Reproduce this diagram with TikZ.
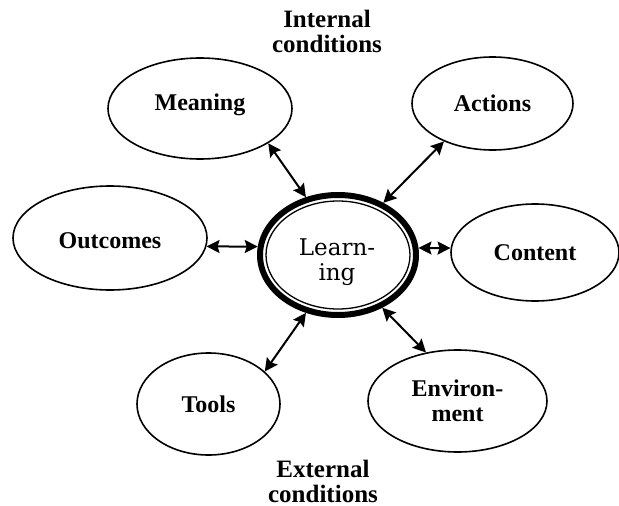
\documentclass[tikz,border=0pt]{standalone}
\usepackage{fontspec}
\setmainfont{Liberation Serif}
\newfontfamily\learnfont{DejaVu Serif}
\usetikzlibrary{shapes.geometric,arrows.meta}
\begin{document}
\begin{tikzpicture}[x=1pt,y=-1pt,
  oval/.style={ellipse,draw,line width=1.6pt,inner sep=0pt,align=center,font=\fontsize{24}{25}\selectfont\bfseries},
  tip/.tip={Stealth[length=13pt,width=13pt,inset=2pt]},
  link/.style={line width=2pt,tip-tip},
  cond/.style={align=center,inner sep=0pt,font=\fontsize{25}{25}\selectfont\bfseries}]
\useasboundingbox (0,0) rectangle (619,506);
\node[oval,minimum width=184pt,minimum height=101pt] (meaning) at (200,108.5) {\raisebox{4pt}[\height][\depth]{Meaning}};
\node[oval,minimum width=161pt,minimum height=93pt] (actions) at (492.5,103.5) {Actions};
\node[oval,minimum width=194pt,minimum height=104pt] (outcomes) at (110,238) {\raisebox{-3pt}[\height][\depth]{Outcomes}};
\node[oval,minimum width=168pt,minimum height=97pt] (content) at (535,252.5) {Content};
\node[oval,minimum width=143pt,minimum height=102pt] (tools) at (208.5,404) {Tools};
\node[oval,minimum width=179pt,minimum height=102pt] (environment) at (457.5,401) {Environ-\\ment};
\node[ellipse,draw,line width=6pt,minimum width=156pt,minimum height=120pt,inner sep=0pt] (learning) at (338,255) {};
\node[ellipse,draw,line width=1.3pt,minimum width=144pt,minimum height=108pt,inner sep=0pt] (learninner) at (338,255) {};
\node[align=center,inner sep=0pt,font=\learnfont\fontsize{23}{25}\selectfont] (learningtext) at (337,262) {Learn-\\ing};
\node[cond] (internal) at (327,31) {Internal\\conditions};
\node[cond] (external) at (323,481) {External\\conditions};
\draw[link] (meaning.-27.6) -- (learning.119.5);
\draw[link] (actions.-142.4) -- (learning.49);
\draw[link] (outcomes.-5.3) -- (learning.174.3);
\draw[link] (learning.5) -- (content.177);
\draw[link] (tools.30.6) -- (learning.-119.5);
\draw[link] (learning.-50.1) -- (environment.123.5);
\end{tikzpicture}
\end{document}
